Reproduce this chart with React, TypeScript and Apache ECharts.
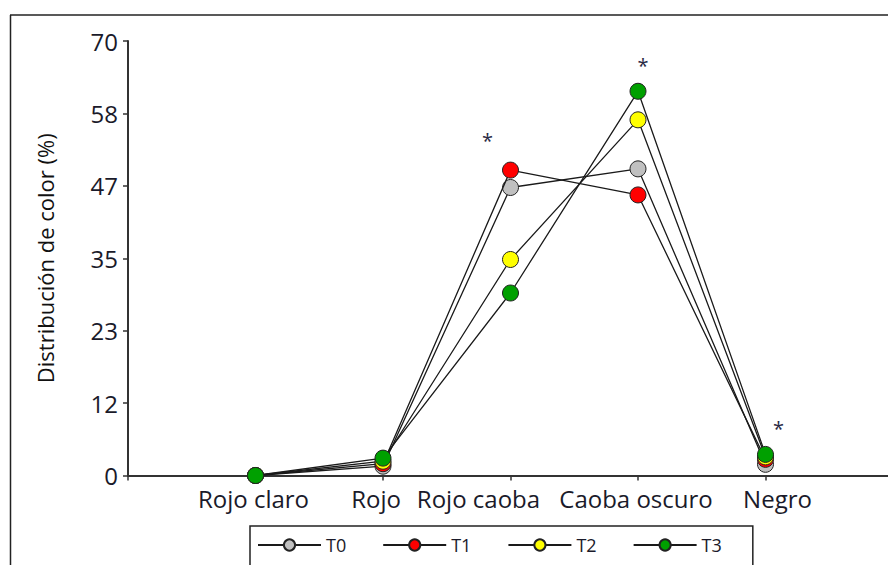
import React, { useEffect, useRef } from "react";
import * as echarts from "echarts";

// Colour classes on the x axis
const categories = ["Rojo claro", "Rojo", "Rojo caoba", "Caoba oscuro", "Negro"];

// Colour distribution (%) per treatment
const t0 = [0, 1.5, 46.4, 49.4, 1.8];
const t1 = [0, 1.9, 49.2, 45.2, 2.6];
const t2 = [0, 2.3, 34.8, 57.3, 3.0];
const t3 = [0, 2.8, 29.4, 61.9, 3.4];

const seriesNames = ["T0", "T1", "T2", "T3"];
const seriesColors = ["#C0C0C0", "#FF0000", "#FFFF00", "#00A000"];

// Significance marks: category and height of the asterisk (%)
const sigCategories = ["Rojo caoba", "Caoba oscuro", "Negro"];
const sigValues = [54.4, 66.7, 8.1];

// y axis: 0..70 split into six equal steps
const yMin = 0;
const yMax = 70;
const ySteps = 6;

const FONT = "Open Sans";

export default function App() {
  const ref = useRef<HTMLDivElement>(null);

  useEffect(() => {
    if (!ref.current) return;
    const chart = echarts.init(ref.current, null, { renderer: "svg" });

    // empty slots before and after the categories give the axis its margins
    const axisCats = ["", ...categories, ""];
    // horizontal nudges of the category labels (px)
    const labelShift: Record<string, number> = {
      "Rojo claro": -2,
      Rojo: -7,
      "Rojo caoba": -32,
      "Caoba oscuro": -2,
      Negro: 12,
    };
    const rich: Record<string, any> = {};
    axisCats.forEach((c, i) => {
      const s = labelShift[c] || 0;
      rich["c" + i] = {
        fontFamily: FONT,
        fontSize: 24,
        color: "#1a1a2a",
        padding: s >= 0 ? [0, 0, 0, 2 * s] : [0, -2 * s, 0, 0],
      };
    });

    const all = [t0, t1, t2, t3];
    const series: any[] = all.map((vals, k) => ({
      name: seriesNames[k],
      type: "line",
      data: categories.map((c, i) => [c, vals[i]]),
      symbol: "circle",
      symbolSize: 16,
      z: 2 + k,
      lineStyle: { color: "#1a1a1a", width: 1.3 },
      itemStyle: {
        color: seriesColors[k],
        borderColor: "#222",
        borderWidth: 1,
      },
    }));

    const sigOffsets = [
      [-23, 3],
      [5, 4],
      [13, 3],
    ];
    series[3].markPoint = {
      symbol: "circle",
      symbolSize: 0,
      silent: true,
      label: {
        show: true,
        position: "inside",
        formatter: "*",
        fontFamily: FONT,
        fontSize: 20,
        color: "#2a2a44",
      },
      data: sigCategories.map((c, i) => ({
        coord: [c, sigValues[i]],
        label: { offset: sigOffsets[i] },
      })),
    };

    chart.setOption({
      animation: false,
      backgroundColor: "#ffffff",
      textStyle: { fontFamily: FONT },
      grid: {
        left: 128,
        right: 0,
        top: 41,
        bottom: 89.5,
        containLabel: false,
      },
      xAxis: {
        type: "category",
        data: axisCats,
        boundaryGap: false,
        axisLine: { show: true, lineStyle: { color: "#333", width: 2 } },
        axisTick: {
          show: true,
          length: 5,
          lineStyle: { color: "#333", width: 1.5 },
        },
        axisLabel: {
          show: true,
          interval: 0,
          margin: 11,
          formatter: (v: string) => {
            const i = axisCats.indexOf(v);
            return v ? `{c${i}|${v}}` : "";
          },
          rich,
        },
        splitLine: { show: false },
      },
      yAxis: {
        type: "value",
        min: yMin,
        max: yMax,
        interval: (yMax - yMin) / ySteps,
        name: "Distribución de color (%)",
        nameLocation: "middle",
        nameRotate: 90,
        nameGap: 72,
        nameTextStyle: { fontFamily: FONT, fontSize: 22, color: "#111" },
        axisLine: { show: true, lineStyle: { color: "#333", width: 2 } },
        axisTick: {
          show: true,
          length: 5,
          lineStyle: { color: "#333", width: 1.5 },
        },
        axisLabel: {
          margin: 10,
          fontFamily: FONT,
          fontSize: 24,
          color: "#1a1a2a",
          formatter: (v: number) => String(Math.round(v)),
        },
        splitLine: { show: false },
      },
      legend: {
        data: seriesNames,
        left: 250,
        top: 526,
        orient: "horizontal",
        itemWidth: 63,
        itemHeight: 14,
        itemGap: 36,
        padding: [10, 31, 20, 7],
        borderColor: "#222",
        borderWidth: 1.5,
        textStyle: { fontFamily: FONT, fontSize: 18, color: "#1a1a2a" },
      },
      graphic: [
        {
          type: "line",
          shape: { x1: 10, y1: 15, x2: 896, y2: 15 },
          style: { stroke: "#222", lineWidth: 1.5 },
        },
        {
          type: "line",
          shape: { x1: 10.5, y1: 15, x2: 10.5, y2: 565 },
          style: { stroke: "#222", lineWidth: 1.5 },
        },
      ],
      series,
    });

    return () => chart.dispose();
  }, []);

  // the plot runs a little past the right edge, so the chart is wider than its clip box
  return (
    <div
      style={{
        position: "absolute",
        left: 0,
        top: 0,
        width: 888,
        height: 565,
        overflow: "hidden",
        background: "#fff",
      }}
    >
      <div ref={ref} style={{ width: 896, height: 565 }} />
    </div>
  );
}
